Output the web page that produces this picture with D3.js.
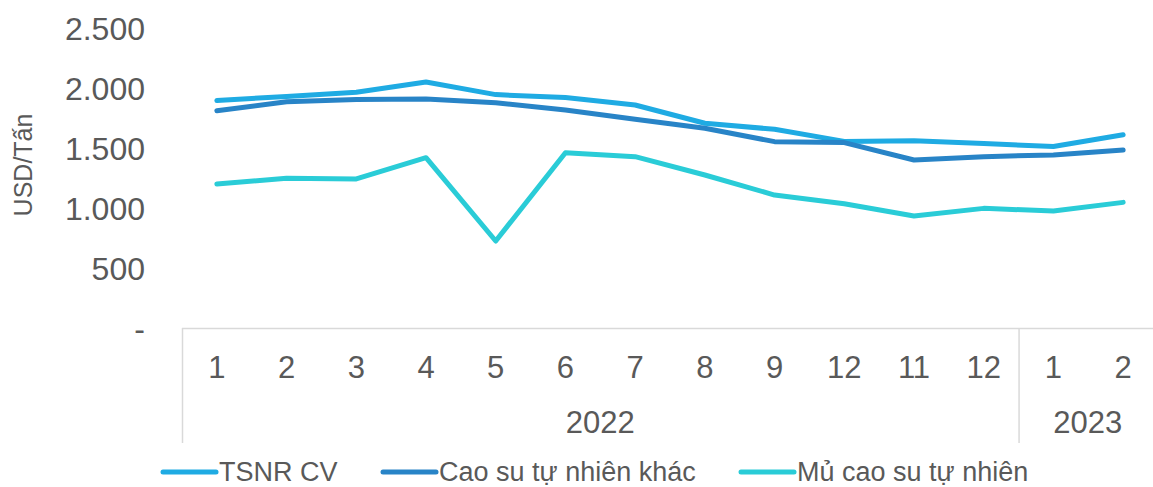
<!DOCTYPE html>
<html>
<head>
<meta charset="utf-8">
<script src="https://cdn.jsdelivr.net/npm/d3@7"></script>
<style>
  html, body { margin: 0; padding: 0; background: #fff; }
  svg { display: block; font-family: "Liberation Sans", Arial, sans-serif; }
</style>
</head>
<body>
<svg id="chart" width="1153" height="487"></svg>
<script>
// Month labels along the x axis, grouped by year
const months = ["1", "2", "3", "4", "5", "6", "7", "8", "9", "12", "11", "12", "1", "2"];
const years = [
  { label: "2022", count: 12 },
  { label: "2023", count: 2 }
];

// Export prices, USD per tonne
const tsnrCV   = [1895, 1930, 1965, 2050, 1945, 1920, 1858, 1706, 1656, 1555, 1560, 1538, 1512, 1610];
const caoSuKhac = [1810, 1885, 1905, 1908, 1878, 1817, 1740, 1664, 1553, 1545, 1400, 1428, 1442, 1483];
const muCaoSu  = [1200, 1247, 1242, 1419, 725, 1461, 1428, 1275, 1108, 1035, 933, 997, 975, 1047];

const seriesNames = ["TSNR CV", "Cao su tự nhiên khác", "Mủ cao su tự nhiên"];
const seriesColors = ["#1fabe3", "#2884c7", "#2accd7"];
const series = [tsnrCV, caoSuKhac, muCaoSu];

const yTicks = [0, 500, 1000, 1500, 2000, 2500];
const yAxisTitle = "USD/Tấn";

const svg = d3.select("#chart");
const textColor = "#595959";
const gridColor = "#d9d9d9";

const plot = { left: 182, right: 1158, top: 28, bottom: 328 };

const x = d3.scaleBand()
  .domain(d3.range(months.length))
  .range([plot.left, plot.right])
  .padding(0);

const y = d3.scaleLinear()
  .domain([0, 2500])
  .range([plot.bottom, plot.top]);

const fmt = v => v === 0 ? "-" : d3.format(",")(v).replace(/,/g, ".");

// Y axis tick labels (no axis line)
const yAxis = d3.axisLeft(y).tickValues(yTicks).tickFormat(fmt).tickSize(0).tickPadding(0);
const yg = svg.append("g").attr("transform", `translate(145,0)`).call(yAxis);
yg.select(".domain").remove();
yg.selectAll("text")
  .attr("fill", textColor)
  .style("font-size", "32px")
  .style("font-family", "'Liberation Sans', Arial, sans-serif")
  .attr("dy", "0.35em");

// Y axis title
svg.append("text")
  .attr("transform", `translate(32,165) rotate(-90)`)
  .attr("text-anchor", "middle")
  .attr("fill", textColor)
  .style("font-size", "25px")
  .text(yAxisTitle);

// Category axis frame
svg.append("line")
  .attr("x1", plot.left).attr("x2", 1153)
  .attr("y1", plot.bottom + 0.5).attr("y2", plot.bottom + 0.5)
  .attr("stroke", gridColor).attr("stroke-width", 1.5);

// Year group separators
let start = 0;
const groupBounds = [];
years.forEach(g => {
  const x0 = x(start);
  const x1 = x(start + g.count - 1) + x.bandwidth();
  groupBounds.push({ label: g.label, x0, x1 });
  start += g.count;
});
groupBounds.forEach((g, i) => {
  svg.append("line")
    .attr("x1", g.x0 + 0.5).attr("x2", g.x0 + 0.5)
    .attr("y1", plot.bottom).attr("y2", 443)
    .attr("stroke", gridColor).attr("stroke-width", 1.5);
  svg.append("text")
    .attr("x", (g.x0 + Math.min(g.x1, 1157)) / 2)
    .attr("y", 433)
    .attr("text-anchor", "middle")
    .attr("fill", textColor)
    .style("font-size", "31px")
    .text(g.label);
});

// Month labels
const xAxis = d3.axisBottom(x).tickFormat(i => months[i]).tickSize(0).tickPadding(0);
const xg = svg.append("g").attr("transform", `translate(0,${plot.bottom})`).call(xAxis);
xg.select(".domain").remove();
xg.selectAll("text")
  .attr("y", 50)
  .attr("dy", 0)
  .attr("fill", textColor)
  .style("font-size", "31px")
  .style("font-family", "'Liberation Sans', Arial, sans-serif");

// Series lines
const line = d3.line()
  .x((d, i) => x(i) + x.bandwidth() / 2)
  .y(d => y(d));

series.forEach((s, k) => {
  svg.append("path")
    .datum(s)
    .attr("d", line)
    .attr("fill", "none")
    .attr("stroke", seriesColors[k])
    .attr("stroke-width", 5)
    .attr("stroke-linecap", "round")
    .attr("stroke-linejoin", "round");
});

// Legend
const legendItems = [
  { x: 163, tx: 219 },
  { x: 383, tx: 439 },
  { x: 741, tx: 797 }
];
const legendY = 472;
legendItems.forEach((p, k) => {
  svg.append("line")
    .attr("x1", p.x).attr("x2", p.x + 53)
    .attr("y1", legendY).attr("y2", legendY)
    .attr("stroke", seriesColors[k])
    .attr("stroke-width", 5)
    .attr("stroke-linecap", "round");
  svg.append("text")
    .attr("x", p.tx)
    .attr("y", legendY)
    .attr("dy", "0.35em")
    .attr("fill", textColor)
    .style("font-size", "27px")
    .text(seriesNames[k]);
});
</script>
</body>
</html>
